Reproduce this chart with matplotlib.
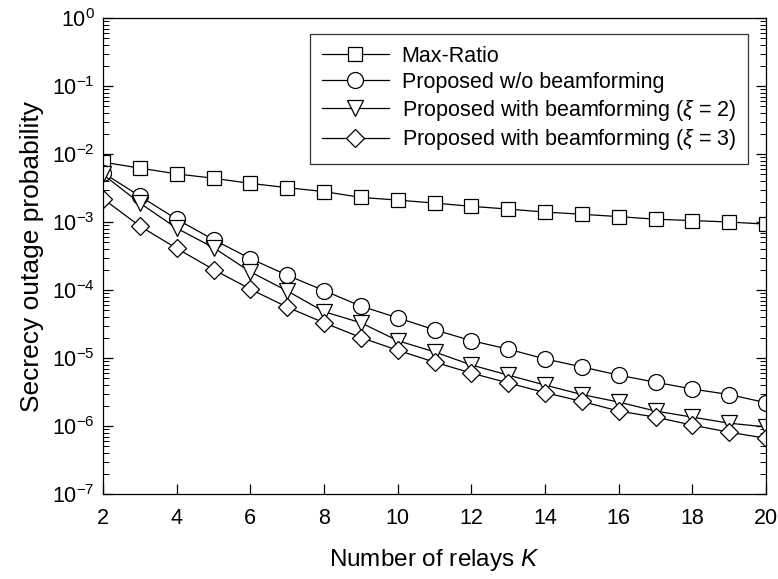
# Secrecy outage probability vs number of relays K (log scale)

import math

import matplotlib

matplotlib.use("Agg")
import matplotlib.pyplot as plt
from matplotlib.ticker import FixedLocator, FuncFormatter, LogLocator, NullFormatter

plt.rcParams["font.family"] = ["Liberation Sans", "DejaVu Sans"]
plt.rcParams["mathtext.fontset"] = "custom"
plt.rcParams["mathtext.rm"] = "Liberation Sans"
plt.rcParams["mathtext.it"] = "Liberation Sans:italic"

relays = list(range(2, 21))

max_ratio = [7.6e-3, 6.2e-3, 5.1e-3, 4.4e-3, 3.7e-3, 3.2e-3, 2.8e-3, 2.3e-3, 2.1e-3,
             1.9e-3, 1.7e-3, 1.55e-3, 1.4e-3, 1.3e-3, 1.2e-3, 1.1e-3, 1.05e-3, 1.0e-3, 9.3e-4]
no_bf = [5.3e-3, 2.4e-3, 1.1e-3, 5.5e-4, 2.9e-4, 1.65e-4, 9.8e-5, 5.8e-5, 3.9e-5,
         2.6e-5, 1.8e-5, 1.35e-5, 9.7e-6, 7.4e-6, 5.6e-6, 4.4e-6, 3.5e-6, 2.9e-6, 2.2e-6]
bf_xi2 = [5.0e-3, 1.9e-3, 8.1e-4, 4.2e-4, 1.85e-4, 9.7e-5, 4.8e-5, 3.3e-5, 1.8e-5,
          1.23e-5, 7.9e-6, 5.6e-6, 4.0e-6, 2.9e-6, 2.25e-6, 1.66e-6, 1.35e-6, 1.1e-6, 9.7e-7]
bf_xi3 = [2.2e-3, 8.7e-4, 4.1e-4, 2.0e-4, 1.03e-4, 5.6e-5, 3.3e-5, 2.0e-5, 1.3e-5,
          8.7e-6, 6.0e-6, 4.3e-6, 3.1e-6, 2.3e-6, 1.66e-6, 1.35e-6, 1.03e-6, 8.1e-7, 6.6e-7]

series = [
    ("Max-Ratio", max_ratio, "s", 10),
    ("Proposed w/o beamforming", no_bf, "o", 11.5),
    (r"Proposed with beamforming ($\xi$ = 2)", bf_xi2, "v", 11.5),
    (r"Proposed with beamforming ($\xi$ = 3)", bf_xi3, "D", 9),
]


def decade_label(v, pos):
    e = int(round(math.log10(v)))
    return rf"$\mathregular{{10^{{{e}}}}}$"


fig = plt.figure(figsize=(7.78, 5.79), dpi=100)
ax = fig.add_axes([0.1324, 0.1468, 0.8522, 0.8221])

for label, values, marker, size in series:
    ax.plot(relays, values, color="black", linewidth=0.9, marker=marker,
            markersize=size, markerfacecolor="white", markeredgecolor="black",
            markeredgewidth=0.9, label=label)

ax.set_yscale("log")
ax.set_xlim(2, 20)
ax.set_ylim(1e-7, 1)
ax.xaxis.set_major_locator(FixedLocator(list(range(2, 21, 2))))
ax.yaxis.set_major_locator(LogLocator(base=10, numticks=10))
ax.yaxis.set_minor_locator(LogLocator(base=10, subs=range(2, 10), numticks=100))
ax.yaxis.set_minor_formatter(NullFormatter())
ax.yaxis.set_major_formatter(FuncFormatter(decade_label))

ax.tick_params(axis="x", which="major", direction="in", length=7, width=0.9,
               labelsize=15.5, pad=10, top=False)
ax.tick_params(axis="y", which="major", direction="in", length=7, width=0.9,
               labelsize=15.5, pad=6, right=True)
ax.tick_params(axis="y", which="minor", direction="in", length=4, width=0.7, right=True)
for spine in ax.spines.values():
    spine.set_linewidth(0.9)

ax.set_xlabel(r"Number of relays $\mathit{K}$", fontsize=17.5, labelpad=13)
ax.set_ylabel("Secrecy outage probability", fontsize=19, labelpad=6)

leg = ax.legend(loc="upper right", bbox_to_anchor=(0.973, 0.966), fontsize=15.5,
                frameon=True, fancybox=False, edgecolor="black", handlelength=3.1,
                borderpad=0.55, labelspacing=0.22, handletextpad=0.6, borderaxespad=0)
leg.get_frame().set_linewidth(0.9)

fig.savefig("out.png", dpi=100)
